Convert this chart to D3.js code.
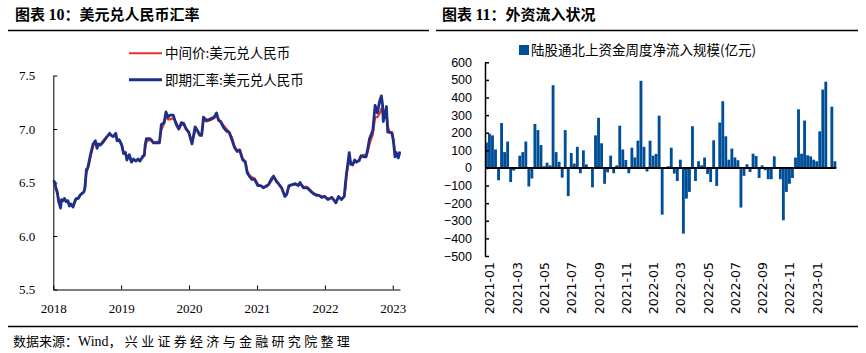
<!DOCTYPE html>
<html><head><meta charset="utf-8">
<script src="https://cdn.jsdelivr.net/npm/d3@7"></script>
<style>
html,body{margin:0;padding:0;background:#fff;}
svg{display:block;}
</style></head>
<body>
<svg id="c" width="866" height="353"></svg>
<script>
// ---------- Left chart data: USD/CNY ----------
const fxDates = ["2018-01-02","2018-01-09","2018-01-16","2018-01-23","2018-01-30","2018-02-06","2018-02-09","2018-02-14","2018-02-23","2018-03-02",
"2018-03-12","2018-03-21","2018-03-28","2018-04-06","2018-04-17","2018-04-24","2018-05-03","2018-05-15","2018-05-25","2018-06-05",
"2018-06-14","2018-06-20","2018-06-28","2018-07-06","2018-07-13","2018-07-20","2018-07-27","2018-08-03","2018-08-15","2018-08-24",
"2018-08-31","2018-09-12","2018-09-20","2018-10-04","2018-10-18","2018-10-31","2018-11-09","2018-11-20","2018-12-03","2018-12-10",
"2018-12-21","2019-01-04","2019-01-14","2019-01-24","2019-02-01","2019-02-14","2019-02-25","2019-03-08","2019-03-20","2019-04-02",
"2019-04-12","2019-04-25","2019-05-06","2019-05-10","2019-05-17","2019-06-03","2019-06-12","2019-06-24","2019-07-10","2019-07-26",
"2019-08-05","2019-08-20","2019-08-30","2019-09-10","2019-09-20","2019-10-08","2019-10-25","2019-11-07","2019-11-21","2019-12-04",
"2019-12-16","2019-12-31","2020-01-17","2020-02-03","2020-02-14","2020-02-28","2020-03-09","2020-03-19","2020-04-03","2020-04-21",
"2020-05-15","2020-05-28","2020-06-08","2020-06-19","2020-07-06","2020-07-21","2020-08-04","2020-08-19","2020-09-01","2020-09-16",
"2020-09-30","2020-10-16","2020-10-30","2020-11-09","2020-11-20","2020-12-04","2020-12-18","2021-01-06","2021-01-20","2021-02-05",
"2021-02-22","2021-03-04","2021-03-18","2021-03-31","2021-04-15","2021-04-26","2021-05-13","2021-05-31","2021-06-10","2021-06-21",
"2021-07-09","2021-07-26","2021-08-10","2021-08-20","2021-09-07","2021-09-27","2021-10-15","2021-10-29","2021-11-16","2021-11-30",
"2021-12-15","2021-12-31","2022-01-17","2022-02-07","2022-02-21","2022-03-01","2022-03-15","2022-03-31","2022-04-15","2022-04-22",
"2022-04-27","2022-05-12","2022-05-20","2022-05-31","2022-06-10","2022-06-20","2022-07-05","2022-07-14","2022-07-28","2022-08-10",
"2022-08-18","2022-08-29","2022-09-08","2022-09-16","2022-09-28","2022-10-10","2022-10-24","2022-11-01","2022-11-07","2022-11-11",
"2022-11-18","2022-11-28","2022-12-05","2022-12-15","2022-12-28","2023-01-05","2023-01-13","2023-01-20","2023-01-31","2023-02-08"];
// 即期汇率 (spot)
const spotRate = [6.52,6.50,6.44,6.40,6.32,6.28,6.26,6.34,6.33,6.35,
6.32,6.33,6.28,6.30,6.27,6.31,6.35,6.35,6.38,6.40,
6.41,6.45,6.62,6.64,6.70,6.76,6.81,6.86,6.89,6.82,
6.86,6.85,6.87,6.90,6.93,6.96,6.94,6.93,6.96,6.89,
6.90,6.85,6.77,6.78,6.71,6.76,6.69,6.72,6.70,6.72,
6.70,6.74,6.76,6.85,6.91,6.91,6.90,6.87,6.87,6.87,
7.04,7.06,7.16,7.11,7.13,7.13,7.04,7.00,7.06,7.05,
7.00,6.97,6.86,7.02,6.99,6.94,6.94,7.11,7.08,7.09,
7.11,7.15,7.08,7.07,7.01,6.98,6.97,6.90,6.83,6.79,
6.80,6.71,6.69,6.59,6.56,6.53,6.53,6.47,6.47,6.45,
6.47,6.48,6.53,6.56,6.51,6.49,6.45,6.37,6.39,6.47,
6.48,6.49,6.47,6.50,6.45,6.45,6.42,6.40,6.38,6.38,
6.36,6.37,6.34,6.36,6.33,6.31,6.37,6.34,6.37,6.50,
6.58,6.78,6.67,6.67,6.71,6.69,6.71,6.75,6.74,6.74,
6.80,6.91,6.95,6.99,7.22,7.15,7.27,7.31,7.23,7.07,
7.12,7.21,6.97,6.97,6.96,6.88,6.74,6.78,6.73,6.79];
// 中间价 (central parity)
const parityRate = [6.51,6.50,6.45,6.42,6.33,6.30,6.28,6.33,6.33,6.34,
6.33,6.32,6.30,6.29,6.28,6.30,6.34,6.36,6.38,6.40,
6.41,6.44,6.59,6.63,6.68,6.74,6.79,6.84,6.88,6.84,
6.84,6.86,6.86,6.89,6.93,6.95,6.94,6.93,6.95,6.90,
6.90,6.86,6.78,6.78,6.73,6.75,6.70,6.71,6.71,6.71,
6.70,6.73,6.75,6.82,6.88,6.90,6.89,6.87,6.88,6.88,
6.99,7.05,7.12,7.09,7.09,7.10,7.06,7.00,7.04,7.04,
7.01,6.96,6.87,6.98,6.99,6.95,6.94,7.09,7.07,7.08,
7.10,7.13,7.09,7.07,7.03,7.00,6.97,6.92,6.84,6.80,
6.81,6.72,6.70,6.61,6.57,6.55,6.54,6.48,6.47,6.46,
6.46,6.48,6.51,6.55,6.52,6.49,6.45,6.37,6.39,6.46,
6.48,6.48,6.48,6.49,6.46,6.46,6.43,6.40,6.39,6.38,
6.37,6.37,6.35,6.36,6.33,6.31,6.36,6.35,6.37,6.45,
6.56,6.73,6.69,6.66,6.70,6.70,6.70,6.74,6.76,6.74,
6.78,6.86,6.91,6.95,7.11,7.11,7.15,7.19,7.18,7.11,
7.10,7.15,7.03,6.97,6.97,6.90,6.77,6.77,6.74,6.77];
const fxYTicks = [5.5, 6.0, 6.5, 7.0, 7.5];
const fxLegend = ["中间价:美元兑人民币", "即期汇率:美元兑人民币"];

// ---------- Right chart data: northbound weekly net inflow (亿元) ----------
const flowStart = "2021-01-01";
const flowValues = [145,195,185,105,-70,255,90,150,-80,-15,
3,70,90,150,-105,-60,250,215,130,10,
30,15,470,90,35,-55,215,-160,85,25,
120,-30,100,20,5,-110,185,285,140,-90,
-25,70,-30,15,240,105,45,-30,115,60,
155,495,120,-20,155,70,80,297,-265,5,
10,115,-32,-74,47,-373,-174,-136,237,-74,
38,15,59,-34,-80,157,-102,258,379,180,
47,110,60,44,-225,-45,21,-23,81,68,
-57,15,-13,-64,-64,66,3,-64,-297,-136,
-90,-57,59,333,81,269,72,66,47,38,
208,445,490,5,348,38];
const flowCategories = flowValues.map((v, i) => d3.timeDay.offset(d3.timeParse("%Y-%m-%d")(flowStart), 7 * i));
const flowYTicks = [600,500,400,300,200,100,0,-100,-200,-300,-400,-500];
const flowTickLabels = ["2021-01","2021-03","2021-05","2021-07","2021-09","2021-11","2022-01","2022-03","2022-05","2022-07","2022-09","2022-11","2023-01"];
const flowLegend = "陆股通北上资金周度净流入规模(亿元)";

// ---------- Drawing ----------
const svg = d3.select("#c");
const CJK = "'Noto Sans CJK SC','Noto Sans CJK JP',sans-serif";
const SERIF = "'Liberation Serif','Times New Roman',serif";

svg.append("rect").attr("width",866).attr("height",353).attr("fill","#fff");

// titles
function title(x, num, rest) {
  const t = svg.append("text").attr("x", x).attr("y", 20)
    .attr("font-size", 15).attr("font-weight", "bold").attr("fill", "#000");
  t.append("tspan").attr("font-family", CJK).text("图表 ");
  t.append("tspan").attr("font-family", SERIF).attr("font-size", 16).text(num);
  t.append("tspan").attr("font-family", CJK).text("：" + rest);
}
title(15, "10", "美元兑人民币汇率");
title(442, "11", "外资流入状况");

// rules
svg.append("line").attr("x1",8).attr("x2",429).attr("y1",30.5).attr("y2",30.5).attr("stroke","#000").attr("stroke-width",1.5);
svg.append("line").attr("x1",436).attr("x2",858).attr("y1",30.5).attr("y2",30.5).attr("stroke","#000").attr("stroke-width",1.5);
svg.append("line").attr("x1",8).attr("x2",858).attr("y1",326.5).attr("y2",326.5).attr("stroke","#000").attr("stroke-width",1.5);

// footer
const foot = svg.append("text").attr("x",13).attr("y",346).attr("font-size",13).attr("fill","#000");
foot.append("tspan").attr("font-family",CJK).text("数据来源：");
foot.append("tspan").attr("font-family",SERIF).attr("font-size",14).text("Wind");
foot.append("tspan").attr("font-family",CJK).attr("letter-spacing",3.3).text("，兴业证券经济与金融研究院整理");

// ---- left chart ----
const parse = d3.timeParse("%Y-%m-%d");
const fxData = fxDates.map((d, i) => ({date: parse(d), spot: spotRate[i], parity: parityRate[i]}));
const xL = d3.scaleTime().domain([parse("2018-01-01"), parse("2023-02-09")]).range([53.3, 400]);
const yL = d3.scaleLinear().domain([5.5, 7.5]).range([289.5, 75.5]);

const gxL = svg.append("g").attr("transform", "translate(0,289.5)")
  .call(d3.axisBottom(xL).ticks(d3.timeYear.every(1)).tickFormat(d3.timeFormat("%Y")).tickSizeInner(-4).tickSizeOuter(0));
gxL.selectAll("text").attr("font-family", SERIF).attr("font-size", 13).attr("fill","#000").attr("dy","1.55em");
gxL.selectAll("path,line").attr("stroke","#000");

const gyL = svg.append("g").attr("transform", "translate(53.3,0)")
  .call(d3.axisLeft(yL).tickValues(fxYTicks).tickFormat(d3.format(".1f")).tickSizeInner(-4).tickSizeOuter(0).tickPadding(18));
gyL.selectAll("text").attr("font-family", SERIF).attr("font-size", 13).attr("fill","#000");
gyL.selectAll("path,line").attr("stroke","#000");

const lineP = d3.line().x(d => xL(d.date)).y(d => yL(d.parity));
const lineS = d3.line().x(d => xL(d.date)).y(d => yL(d.spot));
svg.append("path").datum(fxData).attr("d", lineP).attr("fill","none").attr("stroke","#f0302c").attr("stroke-width",2.2).attr("stroke-linejoin","round");
svg.append("path").datum(fxData).attr("d", lineS).attr("fill","none").attr("stroke","#1c2f8a").attr("stroke-width",2.8).attr("stroke-linejoin","round");

// left legend
const legColors = ["#f0302c", "#1c2f8a"];
const legW = [2, 3];
fxLegend.forEach((t, i) => {
  const y = 53.3 + i * 26.5;
  svg.append("line").attr("x1",129).attr("x2",162).attr("y1",y).attr("y2",y).attr("stroke",legColors[i]).attr("stroke-width",legW[i]);
  svg.append("text").attr("x",165).attr("y",y).attr("dy","0.36em").attr("font-family",CJK).attr("font-size",13.5).attr("fill","#000").text(t);
});

// ---- right chart ----
const xR = d3.scaleBand().domain(flowCategories).range([485, 836.3]).paddingInner(0.06).paddingOuter(0);
const yR = d3.scaleLinear().domain([-500, 600]).range([256, 62.3]);
const barColor = "#004e98";

svg.append("g").selectAll("rect").data(flowValues).join("rect")
  .attr("x", (d, i) => xR(flowCategories[i]))
  .attr("width", xR.bandwidth())
  .attr("y", d => yR(Math.max(0, d)))
  .attr("height", d => Math.abs(yR(d) - yR(0)))
  .attr("fill", barColor);

const gyR = svg.append("g").attr("transform","translate(485,0)")
  .call(d3.axisLeft(yR).tickValues(flowYTicks).tickFormat(d3.format("d")).tickSizeInner(-4).tickSizeOuter(0).tickPadding(13));
gyR.selectAll("text").attr("font-family","'Liberation Sans',Arial,sans-serif").attr("font-size",12.5).attr("fill","#000");
gyR.selectAll("path,line").attr("stroke","#000").attr("stroke-width",1.5);

// zero line
svg.append("line").attr("x1", 485).attr("x2", 836.3).attr("y1", yR(0)).attr("y2", yR(0)).attr("stroke","#000").attr("stroke-width",2);

// rotated category labels
const labelCats = flowCategories.filter((d, i) => i % 9 === 0);
svg.append("g").selectAll("text").data(labelCats).join("text")
  .attr("transform", d => `translate(${xR(d) + xR.bandwidth()/2 + 3.5},262) rotate(-90)`)
  .attr("text-anchor","end").attr("dy","0.36em")
  .attr("font-family","'DejaVu Sans',sans-serif").attr("font-size",12.5).attr("fill","#000")
  .text((d, i) => flowTickLabels[i]);

// right legend
svg.append("rect").attr("x",519).attr("y",45).attr("width",10).attr("height",10).attr("fill",barColor);
svg.append("text").attr("x",531).attr("y",50).attr("dy","0.36em").attr("font-family",CJK).attr("font-size",13.5).attr("fill","#000").text(flowLegend);
</script>
</body></html>
